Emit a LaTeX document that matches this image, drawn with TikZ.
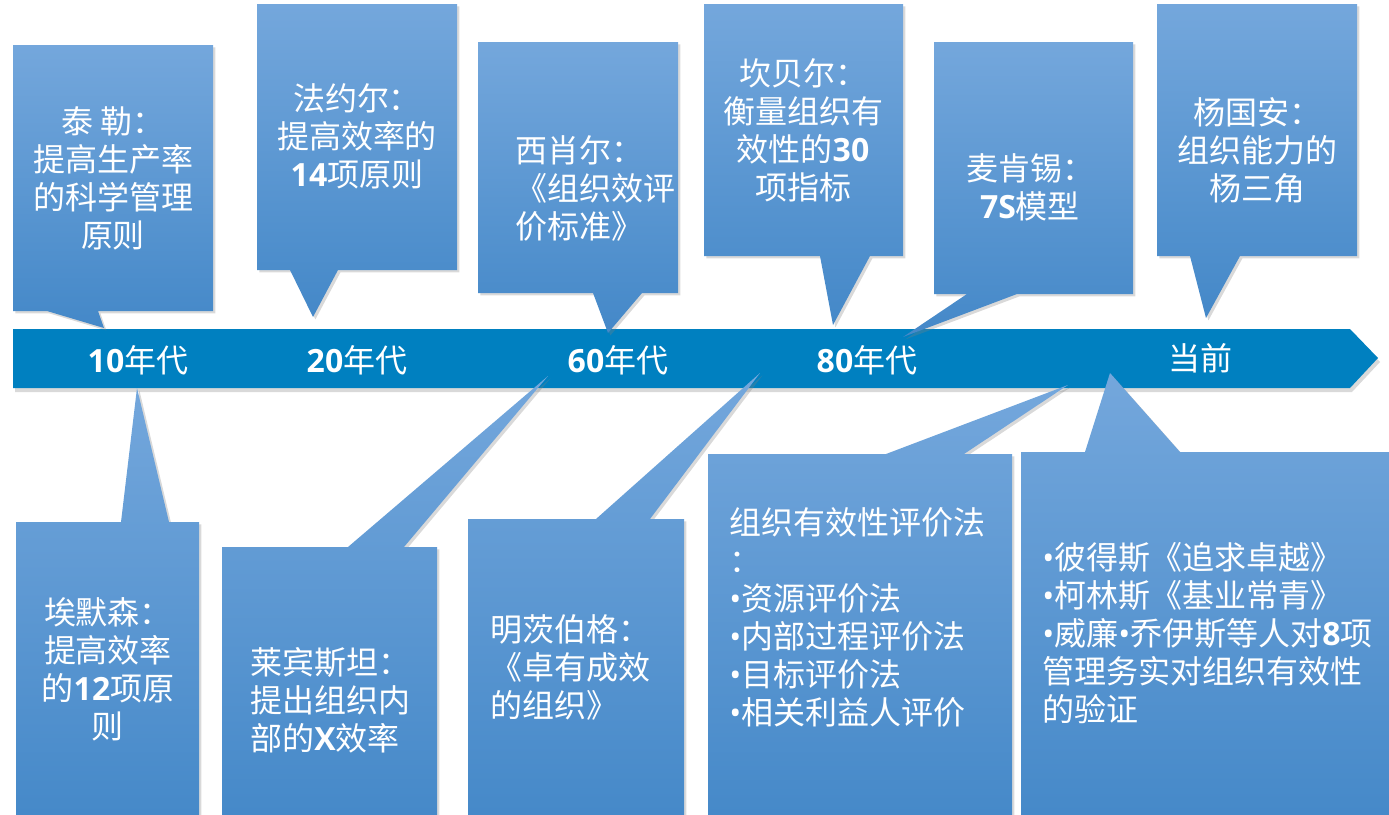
\documentclass[tikz,border=0pt]{standalone}
\usepackage{fontspec}
\setmainfont{Noto Sans CJK SC}
\newfontfamily\numfont{Open Sans}
\usetikzlibrary{shadows}
\definecolor{barblue}{RGB}{0,128,192}
\definecolor{boxtop}{RGB}{116,167,220}
\definecolor{boxbot}{RGB}{68,136,200}
\newcommand\nm[1]{{\numfont\bfseries #1}}
\newcommand\bul{{\numfont •}}
\tikzset{
 callout/.style={top color=boxtop, bottom color=boxbot, draw=none,
   drop shadow={shadow xshift=1.2pt, shadow yshift=-1.2pt, opacity=0.3}},
 txt/.style={text=white, font=\fontsize{16}{19}\selectfont, inner sep=0pt},
 ctxt/.style={txt, align=center},
 ltxt/.style={txt, align=left, anchor=west},
 yearlbl/.style={text=white, font=\fontsize{16}{19}\selectfont, inner sep=0pt}
}
\begin{document}
\begin{tikzpicture}[x=0.5pt,y=-0.5pt]
\useasboundingbox (0,0) rectangle (1389,815);
\clip (0,0) rectangle (1389,815);
% timeline arrow
\fill[barblue, drop shadow={shadow xshift=1pt, shadow yshift=-2pt, opacity=0.3}]
  (13,329) -- (1350,329) -- (1378,358) -- (1350,388) -- (13,388) -- cycle;
\node[yearlbl] (y10) at (138,360) {\nm{10}年代};
\node[yearlbl] (y20) at (357,360) {\nm{20}年代};
\node[yearlbl] (y60) at (618,360) {\nm{60}年代};
\node[yearlbl] (y80) at (867,360) {\nm{80}年代};
\node[yearlbl] (ynow) at (1200,358) {当前};
% tips
\coordinate (t1) at (104,328);
\coordinate (t2) at (313,317);
\coordinate (t3) at (608,333);
\coordinate (t4) at (833,325);
\coordinate (t5) at (903,337);
\coordinate (t6) at (1206,318);
\coordinate (b1) at (137,388);
\coordinate (b2) at (548,376);
\coordinate (b3) at (760,373);
\coordinate (b4) at (1068,385);
\coordinate (b5) at (1110,373);
% top callouts
\path[callout] (13,45) -- (213,45) -- (213,311) -- (98,311) -- (t1) -- (47,311) -- (13,311) -- cycle;
\path[callout] (257,4) -- (457,4) -- (457,270) -- (338,270) -- (t2) -- (290,270) -- (257,270) -- cycle;
\path[callout] (478,42) -- (678,42) -- (678,293) -- (642,293) -- (t3) -- (593,293) -- (478,293) -- cycle;
\path[callout] (704,4) -- (903,4) -- (903,256) -- (870,256) -- (t4) -- (820,256) -- (704,256) -- cycle;
\path[callout] (934,42) -- (1133,42) -- (1133,294) -- (1017,294) -- (t5) -- (967,294) -- (934,294) -- cycle;
\path[callout] (1157,4) -- (1357,4) -- (1357,256) -- (1240,256) -- (t6) -- (1190,256) -- (1157,256) -- cycle;
% bottom callouts
\path[callout] (16,522) -- (121,522) -- (b1) -- (169,522) -- (199,522) -- (199,830) -- (16,830) -- cycle;
\path[callout] (222,547) -- (348,547) -- (b2) -- (404,547) -- (437,547) -- (437,830) -- (222,830) -- cycle;
\path[callout] (468,519) -- (596,519) -- (b3) -- (650,519) -- (684,519) -- (684,830) -- (468,830) -- cycle;
\path[callout] (708,454) -- (886,454) -- (b4) -- (964,454) -- (1012,454) -- (1012,830) -- (708,830) -- cycle;
\path[callout] (1021,452) -- (1085,452) -- (b5) -- (1180,452) -- (1400,452) -- (1400,830) -- (1021,830) -- cycle;
% texts
\node[ctxt] (taylor) at (113,178) {泰 勒：\\提高生产率\\的科学管理\\原则};
\node[ctxt] (fayol) at (357,136) {法约尔：\\提高效率的\\\nm{14}项原则};
\node[ltxt] (seashore) at (515,188) {西肖尔：\\《组织效评\\价标准》};
\node[ctxt] (campbell) at (803,130) {坎贝尔：\\衡量组织有\\效性的\nm{30}\\项指标};
\node[ctxt] (mckinsey) at (1030,187) {麦肯锡：\\\nm{7S}模型};
\node[ctxt] (yang) at (1257,150) {杨国安：\\组织能力的\\杨三角};
\node[ctxt] (emerson) at (108,669) {埃默森：\\提高效率\\的\nm{12}项原\\则};
\node[ltxt] (leibenstein) at (250,700) {莱宾斯坦：\\提出组织内\\部的\nm{X}效率};
\node[ltxt] (mintzberg) at (490,667) {明茨伯格：\\《卓有成效\\的组织》};
\node[ltxt] (methods) at (729,617) {组织有效性评价法\\：\\\bul 资源评价法\\\bul 内部过程评价法\\\bul 目标评价法\\\bul 相关利益人评价};
\node[ltxt] (recent) at (1042,633) {\bul 彼得斯《追求卓越》\\\bul 柯林斯《基业常青》\\\bul 威廉\bul 乔伊斯等人对\nm{8}项\\管理务实对组织有效性\\的验证};
\end{tikzpicture}
\end{document}
